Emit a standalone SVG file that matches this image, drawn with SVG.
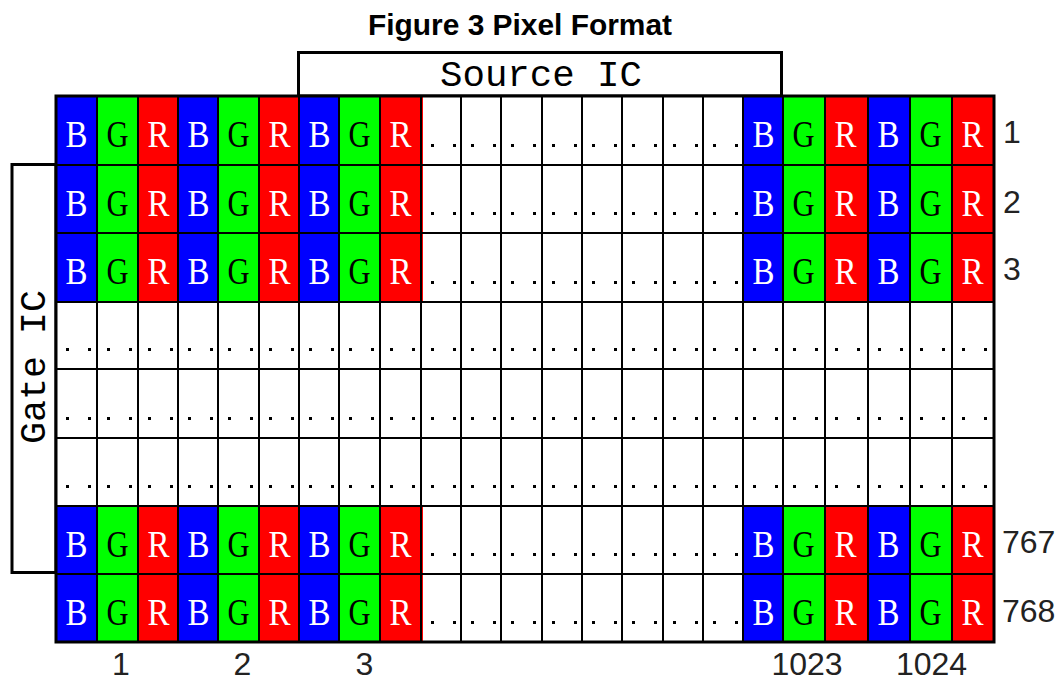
<svg xmlns="http://www.w3.org/2000/svg" xmlns:xlink="http://www.w3.org/1999/xlink" width="1061" height="682" viewBox="0 0 1061 682">
<style>
.lt{font-family:"Liberation Serif","Times New Roman",serif;font-size:38px;text-anchor:middle}
.w{fill:#ffffff}
.k{fill:#000000}
.mono{font-family:"Liberation Mono","Courier New",monospace;font-size:36px;fill:#000;text-anchor:middle}
.lbl{font-family:"Liberation Sans",Arial,sans-serif;font-size:32px;fill:#222}
.ln{stroke:#000;stroke-width:2;fill:none}
.box{stroke:#000;stroke-width:3;fill:#fff}
</style>
<defs>
<g id="cB"><rect width="43" height="69" fill="#0000ff"/><text class="lt w" x="20.5" y="50.5" textLength="22" lengthAdjust="spacingAndGlyphs">B</text></g>
<g id="cG"><rect width="43" height="69" fill="#00ff00"/><text class="lt k" x="20.5" y="50.5" textLength="22" lengthAdjust="spacingAndGlyphs">G</text></g>
<g id="cR"><rect width="43" height="69" fill="#ff0000"/><text class="lt w" x="20.5" y="50.5" textLength="22" lengthAdjust="spacingAndGlyphs">R</text></g>
<g id="row15">
<use href="#cB" x="56"/><use href="#cG" x="97"/><use href="#cR" x="138"/>
<use href="#cB" x="178"/><use href="#cG" x="218"/><use href="#cR" x="259"/>
<use href="#cB" x="299"/><use href="#cG" x="339"/><use href="#cR" x="380"/>
<use href="#cB" x="743"/><use href="#cG" x="783"/><use href="#cR" x="825"/>
<use href="#cB" x="868"/><use href="#cG" x="910"/><use href="#cR" x="952"/>
</g>
<g id="dd"><rect x="10" y="0" width="3" height="3" fill="#000"/><rect x="32" y="0" width="3" height="3" fill="#000"/></g>
<g id="dots8">
<use href="#dd" x="421"/><use href="#dd" x="461"/><use href="#dd" x="501"/><use href="#dd" x="542"/>
<use href="#dd" x="582"/><use href="#dd" x="622"/><use href="#dd" x="663"/><use href="#dd" x="703"/>
</g>
<g id="dotsAll">
<use href="#dd" x="56"/><use href="#dd" x="97"/><use href="#dd" x="138"/><use href="#dd" x="178"/>
<use href="#dd" x="218"/><use href="#dd" x="259"/><use href="#dd" x="299"/><use href="#dd" x="339"/>
<use href="#dd" x="380"/>
<use href="#dots8"/>
<use href="#dd" x="743"/><use href="#dd" x="783"/><use href="#dd" x="825"/><use href="#dd" x="868"/>
<use href="#dd" x="910"/><use href="#dd" x="952"/>
</g>
</defs>
<rect width="1061" height="682" fill="#fff"/>
<g id="title">
<text x="520" y="35" font-family="Liberation Sans, Arial, sans-serif" font-weight="bold" font-size="29" text-anchor="middle" textLength="304" lengthAdjust="spacingAndGlyphs" fill="#000">Figure 3 Pixel Format</text>
</g>
<g id="source-ic">
<rect class="box" x="298.5" y="52.5" width="483" height="43.5"/>
<text class="mono" x="541" y="86" textLength="202" lengthAdjust="spacingAndGlyphs">Source IC</text>
</g>
<g id="gate-ic">
<rect class="box" x="12" y="164.5" width="44" height="408"/>
<text class="mono" transform="translate(45,367) rotate(-90)" x="0" y="0" textLength="154" lengthAdjust="spacingAndGlyphs">Gate IC</text>
</g>
<g id="pixel-grid">
<rect x="56" y="96" width="938" height="546" fill="#fff"/>
<use href="#row15" y="96"/>
<use href="#row15" y="165"/>
<use href="#row15" y="233"/>
<use href="#row15" y="506"/>
<use href="#row15" y="574"/>
<use href="#dots8" y="144"/>
<use href="#dots8" y="212"/>
<use href="#dots8" y="281"/>
<use href="#dotsAll" y="348"/>
<use href="#dotsAll" y="417"/>
<use href="#dotsAll" y="485"/>
<use href="#dots8" y="553"/>
<use href="#dots8" y="621"/>
<path class="ln" d="M97 96V642M138 96V642M178 96V642M218 96V642M259 96V642M299 96V642M339 96V642M380 96V642M421 96V642M461 96V642M501 96V642M542 96V642M582 96V642M622 96V642M663 96V642M703 96V642M743 96V642M783 96V642M825 96V642M868 96V642M910 96V642M952 96V642"/>
<path class="ln" d="M56 165H994M56 233H994M56 302H994M56 369H994M56 438H994M56 506H994M56 574H994"/>
<rect x="56" y="96" width="938" height="546" fill="none" stroke="#000" stroke-width="3"/>
</g>
<g id="row-labels">
<text class="lbl" x="1003" y="143">1</text>
<text class="lbl" x="1003" y="213">2</text>
<text class="lbl" x="1003" y="280">3</text>
<text class="lbl" x="1002" y="553">767</text>
<text class="lbl" x="1002" y="622">768</text>
</g>
<g id="col-labels" text-anchor="middle">
<text class="lbl" x="121" y="675">1</text>
<text class="lbl" x="242.5" y="675">2</text>
<text class="lbl" x="364.5" y="675">3</text>
<text class="lbl" x="807" y="675">1023</text>
<text class="lbl" x="931.5" y="675">1024</text>
</g>
</svg>
